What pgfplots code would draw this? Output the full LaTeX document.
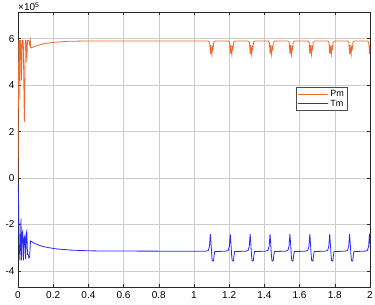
\documentclass[border=0pt]{standalone}
\usepackage{fontspec}
\setmainfont{Liberation Sans}
\usepackage{pgfplots}
\pgfplotsset{compat=1.18}
\definecolor{pmcol}{RGB}{240,105,45}
\definecolor{tmcol}{RGB}{40,40,250}
\definecolor{gridc}{RGB}{205,205,205}
\definecolor{axc}{RGB}{40,40,40}
\begin{document}
\begin{tikzpicture}
\begin{axis}[
  name=ax,
  scale only axis, width=352pt, height=275pt,
  at={(0,0)}, anchor=south west,
  xmin=0, xmax=2, ymin=-4.7, ymax=7.15,
  xtick={0,0.2,...,2}, ytick={-4,-2,0,2,4,6},
  xticklabels={0,0.2,0.4,0.6,0.8,1,1.2,1.4,1.6,1.8,2},
  grid=major, major grid style={gridc, line width=0.5pt},
  axis line style={axc, line width=0.5pt},
  tick style={axc, line width=0.4pt}, tick align=inside, major tick length=3pt,
  /pgf/number format/assume math mode=true,
  tick label style={font=\fontsize{10}{12}\selectfont, text=black},
  xticklabel style={yshift=-1pt},
  legend style={at={(rel axis cs:0.935,0.727)}, anchor=north east,
    draw=black!70, line width=0.4pt, font=\fontsize{9}{10}\selectfont,
    inner sep=1pt, row sep=-2pt, cells={anchor=west}},
  legend image code/.code={\draw[#1] (0pt,0pt) -- (30pt,0pt);},
  clip=true,
]
\addplot[pmcol, line width=0.8pt] coordinates {
(0.000,0.0) (0.003,4.5) (0.005,5.92) (0.008,5.92) (0.010,3.4) (0.012,5.92)
(0.016,5.92) (0.020,4.2) (0.024,5.92) (0.030,5.92) (0.036,2.4) (0.042,5.92)
(0.046,5.92) (0.050,5.0) (0.054,5.92) (0.062,5.92) (0.066,5.75) (0.070,5.92)
(0.072,5.6) (0.08,5.62) (0.10,5.68) (0.13,5.75) (0.16,5.8) (0.20,5.84)
(0.25,5.87) (0.30,5.89) (0.40,5.9)
(1.081,5.9) (1.089,5.85) (1.093,5.35) (1.096,5.72) (1.099,5.45) (1.102,5.3) (1.105,5.7) (1.108,5.5) (1.112,5.85) (1.121,5.9)
(1.194,5.9) (1.202,5.85) (1.206,5.35) (1.209,5.72) (1.212,5.45) (1.215,5.3) (1.218,5.7) (1.221,5.5) (1.225,5.85) (1.234,5.9)
(1.307,5.9) (1.315,5.85) (1.319,5.35) (1.322,5.72) (1.325,5.45) (1.328,5.3) (1.331,5.7) (1.334,5.5) (1.338,5.85) (1.347,5.9)
(1.420,5.9) (1.428,5.85) (1.432,5.35) (1.435,5.72) (1.438,5.45) (1.441,5.3) (1.444,5.7) (1.447,5.5) (1.451,5.85) (1.460,5.9)
(1.533,5.9) (1.541,5.85) (1.545,5.35) (1.548,5.72) (1.551,5.45) (1.554,5.3) (1.557,5.7) (1.560,5.5) (1.564,5.85) (1.573,5.9)
(1.646,5.9) (1.654,5.85) (1.658,5.35) (1.661,5.72) (1.664,5.45) (1.667,5.3) (1.670,5.7) (1.673,5.5) (1.677,5.85) (1.686,5.9)
(1.759,5.9) (1.767,5.85) (1.771,5.35) (1.774,5.72) (1.777,5.45) (1.780,5.3) (1.783,5.7) (1.786,5.5) (1.790,5.85) (1.799,5.9)
(1.872,5.9) (1.880,5.85) (1.884,5.35) (1.887,5.72) (1.890,5.45) (1.893,5.3) (1.896,5.7) (1.899,5.5) (1.903,5.85) (1.912,5.9)
(1.985,5.9) (1.993,5.85) (1.997,5.35) (2.000,5.72) (2.003,5.45)
};
\addlegendentry{Pm}
\addplot[tmcol, line width=0.8pt] coordinates {
(0.000,-0.30) (0.002,-0.5) (0.005,-2.0) (0.008,-3.0) (0.011,-3.55) (0.014,-2.8)
(0.017,-1.75) (0.020,-3.55) (0.023,-2.4) (0.027,-2.3) (0.031,-3.55) (0.035,-2.6)
(0.039,-2.5) (0.043,-3.5) (0.047,-2.4) (0.050,-2.3) (0.054,-3.3) (0.058,-3.3)
(0.062,-3.45) (0.066,-3.4) (0.071,-2.72) (0.08,-2.76) (0.10,-2.84) (0.13,-2.93)
(0.17,-3.0) (0.22,-3.06) (0.30,-3.11) (0.40,-3.14) (0.50,-3.15)
(1.063,-3.16) (1.081,-3.13) (1.088,-2.95) (1.093,-2.42) (1.097,-2.85) (1.101,-3.35) (1.104,-3.57) (1.111,-3.58) (1.114,-3.35) (1.118,-3.17)
(1.176,-3.16) (1.194,-3.13) (1.201,-2.95) (1.206,-2.42) (1.210,-2.85) (1.214,-3.35) (1.217,-3.57) (1.224,-3.58) (1.227,-3.35) (1.231,-3.17)
(1.289,-3.16) (1.307,-3.13) (1.314,-2.95) (1.319,-2.42) (1.323,-2.85) (1.327,-3.35) (1.330,-3.57) (1.337,-3.58) (1.340,-3.35) (1.344,-3.17)
(1.402,-3.16) (1.420,-3.13) (1.427,-2.95) (1.432,-2.42) (1.436,-2.85) (1.440,-3.35) (1.443,-3.57) (1.450,-3.58) (1.453,-3.35) (1.457,-3.17)
(1.515,-3.16) (1.533,-3.13) (1.540,-2.95) (1.545,-2.42) (1.549,-2.85) (1.553,-3.35) (1.556,-3.57) (1.563,-3.58) (1.566,-3.35) (1.570,-3.17)
(1.628,-3.16) (1.646,-3.13) (1.653,-2.95) (1.658,-2.42) (1.662,-2.85) (1.666,-3.35) (1.669,-3.57) (1.676,-3.58) (1.679,-3.35) (1.683,-3.17)
(1.741,-3.16) (1.759,-3.13) (1.766,-2.95) (1.771,-2.42) (1.775,-2.85) (1.779,-3.35) (1.782,-3.57) (1.789,-3.58) (1.792,-3.35) (1.796,-3.17)
(1.854,-3.16) (1.872,-3.13) (1.879,-2.95) (1.884,-2.42) (1.888,-2.85) (1.892,-3.35) (1.895,-3.57) (1.902,-3.58) (1.905,-3.35) (1.909,-3.17)
(1.967,-3.16) (1.985,-3.13) (1.992,-2.95) (1.997,-2.42) (2.001,-2.85) (2.005,-3.35)
};
\addlegendentry{Tm}
\end{axis}
\node[anchor=south west, inner sep=0pt, font=\fontsize{10}{12}\selectfont] at ([yshift=1pt]ax.north west) {×10\textsuperscript{5}};
\pgfresetboundingbox
\path[use as bounding box] (-18pt,-18pt) rectangle (357pt,287pt);
\end{tikzpicture}
\end{document}
